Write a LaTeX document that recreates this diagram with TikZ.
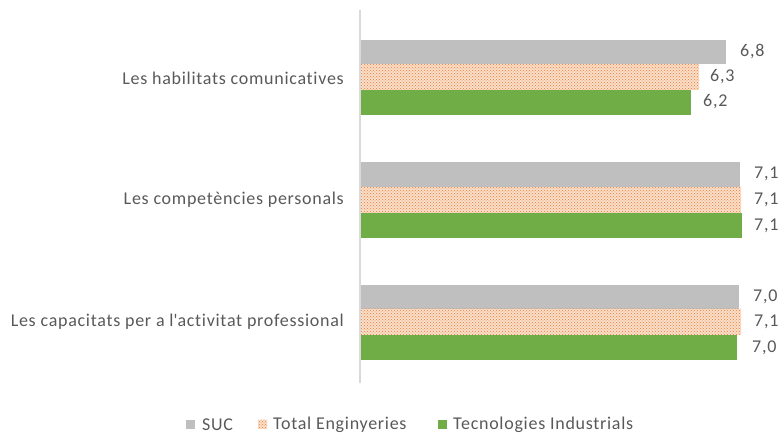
\documentclass[tikz,border=0pt]{standalone}
\usepackage{fontspec}
\setmainfont{Carlito}[Ligatures={NoCommon}, LetterSpace=4]
\usetikzlibrary{patterns}
\definecolor{txt}{HTML}{595959}
\definecolor{sucgray}{HTML}{BFBFBF}
\definecolor{engor}{HTML}{ED7D31}
\definecolor{tigreen}{HTML}{70AD47}
\definecolor{axisgray}{HTML}{D9D9D9}
\tikzset{
  lbl/.style={font=\fontsize{18}{21}\selectfont, text=txt, inner sep=0pt},
  cat/.style={lbl, anchor=east},
  val/.style={lbl, anchor=west},
  sucbar/.style={fill=sucgray, draw=none},
  engbg/.style={fill=engor!25, draw=none},
  engbar/.style={pattern=crosshatch dots, pattern color=engor, draw=none},
  tibar/.style={fill=tigreen, draw=none},
}
\begin{document}
\begin{tikzpicture}[x=1pt,y=-1pt]
\useasboundingbox (0,0) rectangle (782,435);
% group 1
\fill[sucbar] (360,40) rectangle (726,64);
\fill[engbg] (360,64) rectangle (699,90);
\fill[engbar] (360,64) rectangle (699,90);
\fill[tibar] (360,90) rectangle (691,115);
% group 2
\fill[sucbar] (360,162) rectangle (740,187);
\fill[engbg] (360,187) rectangle (741,213);
\fill[engbar] (360,187) rectangle (741,213);
\fill[tibar] (360,213) rectangle (742,238);
% group 3
\fill[sucbar] (360,285) rectangle (739,309);
\fill[engbg] (360,309) rectangle (741,335);
\fill[engbar] (360,309) rectangle (741,335);
\fill[tibar] (360,335) rectangle (737,360);
% axis
\draw[axisgray, line width=1.2] (360,10) coordinate (axt) -- (360,383) coordinate (axb);
% values
\node[val] (v11) at (740,52) {6,8};
\node[val] (v12) at (710,77) {6,3};
\node[val] (v13) at (703,102) {6,2};
\node[val] (v21) at (754,174) {7,1};
\node[val] (v22) at (754,200) {7,1};
\node[val] (v23) at (754,226) {7,1};
\node[val] (v31) at (753,297) {7,0};
\node[val] (v32) at (754,322) {7,1};
\node[val] (v33) at (752,348) {7,0};
% categories
\node[cat] (c1) at (344,78) {Les habilitats comunicatives};
\node[cat] (c2) at (344,200) {Les compet\`encies personals};
\node[cat] (c3) at (344,322) {Les capacitats per a l\textquotesingle activitat professional};
% legend
\fill[sucbar] (186,420) rectangle (195,429);
\node[lbl, anchor=west] (l1) at (202,425) {SUC};
\fill[engbg] (258,420) rectangle (267,429);
\fill[engbar] (258,420) rectangle (267,429);
\node[lbl, anchor=west] (l2) at (273,425) {Total Enginyeries};
\fill[tibar] (438,420) rectangle (447,429);
\node[lbl, anchor=west] (l3) at (453,425) {Tecnologies Industrials};
\end{tikzpicture}
\end{document}
